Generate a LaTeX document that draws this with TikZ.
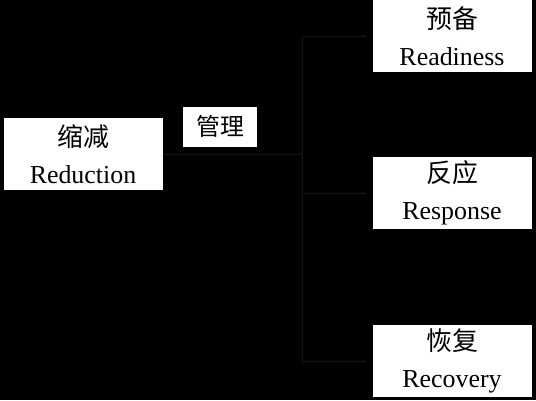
\documentclass[tikz,border=0pt]{standalone}
\usepackage{fontspec}
\setmainfont{Liberation Serif}
\newfontfamily\cjk{Noto Sans CJK SC}
\definecolor{wire}{gray}{0.08}

\begin{document}
\begin{tikzpicture}[x=1bp,y=-1bp]

% background
\fill[black] (0,0) rectangle (536,400);
\useasboundingbox (0,0) rectangle (536,400);

% boxes
\tikzstyle{phase}=[fill=white,draw=black,inner sep=0pt,minimum width=160bp,minimum height=73bp,align=center,font=\fontsize{26}{37}\selectfont]

\path (83,154)  node[phase] (Reduction) {{\cjk 缩减}\\Reduction};
\path (452,36)  node[phase] (Readiness) {{\cjk 预备}\\Readiness};
\path (452,193) node[phase] (Response)  {{\cjk 反应}\\Response};
\path (452,361) node[phase] (Recovery)  {{\cjk 恢复}\\Recovery};

% branch points
\coordinate (Branch) at (302,154);
\coordinate (ToReadiness) at (Readiness.west -| Branch);
\coordinate (ToResponse) at (Response.west -| Branch);
\coordinate (ToRecovery) at (Recovery.west -| Branch);

% edges
\tikzstyle{flow}=[->,draw=wire,line width=0.8bp]

\draw[flow] (Reduction) -- node[pos=0.41,above=7bp,fill=white,inner sep=2bp,minimum width=74bp,minimum height=40bp,font=\cjk\fontsize{24}{28}\selectfont] (Manage) {管理} (Branch);
\draw[draw=wire,line width=0.8bp] (ToReadiness) -- (ToRecovery);
\draw[flow,shorten >=6bp] (ToReadiness) -- (Readiness);
\draw[flow,shorten >=6bp] (ToResponse) -- (Response);
\draw[flow,shorten >=6bp] (ToRecovery) -- (Recovery);

\end{tikzpicture}
\end{document}
